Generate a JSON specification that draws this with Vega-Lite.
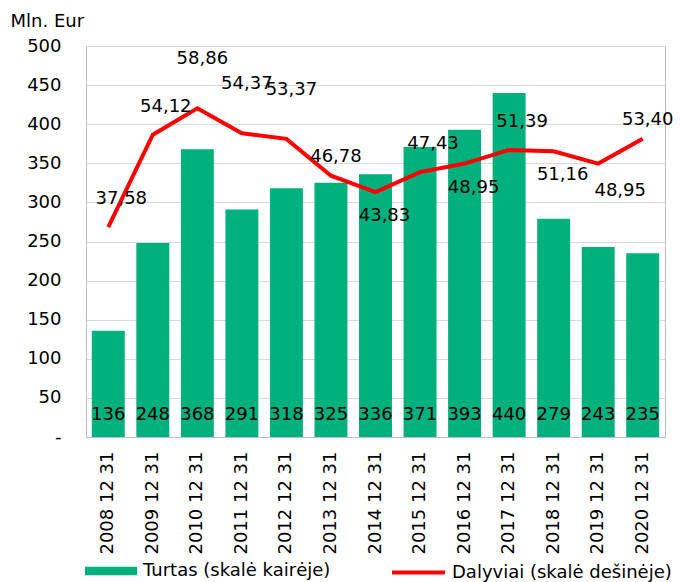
{
  "$schema": "https://vega.github.io/schema/vega-lite/v6.json",
  "width": 579,
  "height": 391,
  "autosize": {"type": "none"},
  "padding": {"left": 86, "top": 46, "right": 15, "bottom": 145},
  "background": "white",
  "config": {
    "font": "DejaVu Sans",
    "view": {"stroke": null},
    "locale": {"number": {"decimal": ",", "thousands": " ", "grouping": [3], "currency": ["", " €"]}},
    "axis": {"labelFont": "DejaVu Sans", "labelFontSize": 18, "labelColor": "#000000", "domainColor": "#bfbfbf", "gridColor": "#d9d9d9", "titleFont": "DejaVu Sans"},
    "legend": {"labelFont": "DejaVu Sans", "labelFontSize": 18, "labelColor": "#000000", "labelLimit": 400}
  },
  "data": {"values": [
    {"date": "2008 12 31", "turtas": 136, "dalyviai": 37.58},
    {"date": "2009 12 31", "turtas": 248, "dalyviai": 54.12},
    {"date": "2010 12 31", "turtas": 368, "dalyviai": 58.86},
    {"date": "2011 12 31", "turtas": 291, "dalyviai": 54.37},
    {"date": "2012 12 31", "turtas": 318, "dalyviai": 53.37},
    {"date": "2013 12 31", "turtas": 325, "dalyviai": 46.78},
    {"date": "2014 12 31", "turtas": 336, "dalyviai": 43.83},
    {"date": "2015 12 31", "turtas": 371, "dalyviai": 47.43},
    {"date": "2016 12 31", "turtas": 393, "dalyviai": 48.95},
    {"date": "2017 12 31", "turtas": 440, "dalyviai": 51.39},
    {"date": "2018 12 31", "turtas": 279, "dalyviai": 51.16},
    {"date": "2019 12 31", "turtas": 243, "dalyviai": 48.95},
    {"date": "2020 12 31", "turtas": 235, "dalyviai": 53.40}
  ]},
  "encoding": {
    "x": {"field": "date", "type": "nominal", "sort": null,
      "scale": {"paddingInner": 0.26, "paddingOuter": 0.13},
      "axis": {"title": null, "labelAngle": -90, "ticks": false, "labelPadding": 14, "domainColor": "#bfbfbf"}}
  },
  "layer": [
    {
      "layer": [
        {
          "mark": {"type": "bar"},
          "encoding": {
            "y": {"field": "turtas", "type": "quantitative", "scale": {"domain": [0, 500], "nice": false},
              "axis": {"values": [0, 50, 100, 150, 200, 250, 300, 350, 400, 450, 500], "ticks": false, "labelPadding": 25, "labelOverlap": false,
                "labelExpr": "datum.value === 0 ? '-' : datum.label",
                "title": "Mln. Eur", "titleAngle": 0, "titleAlign": "left", "titleBaseline": "middle", "titleX": -76, "titleY": -25,
                "titleFontSize": 18, "titleFontWeight": "normal", "titleColor": "#000000"}},
            "fill": {"datum": "Turtas (skalė kairėje)", "type": "nominal", "scale": {"range": ["#00B07D"]},
              "legend": {"title": null, "orient": "none", "legendX": -1, "legendY": 499, "symbolType": "M-1,-0.16H1V0.16H-1Z", "symbolSize": 2704, "symbolStrokeWidth": 0, "symbolOpacity": 1, "labelOffset": 6, "padding": 0}}
          }
        },
        {
          "mark": {"type": "text", "color": "#000000", "fontSize": 18, "baseline": "middle", "dy": -22},
          "encoding": {
            "y": {"datum": 0, "type": "quantitative",
              "axis": {"values": [0, 50, 100, 150, 200, 250, 300, 350, 400, 450, 500], "ticks": false, "labelPadding": 25, "labelOverlap": false,
                "labelExpr": "datum.value === 0 ? '-' : datum.label",
                "title": "Mln. Eur", "titleAngle": 0, "titleAlign": "left", "titleBaseline": "middle", "titleX": -76, "titleY": -25,
                "titleFontSize": 18, "titleFontWeight": "normal", "titleColor": "#000000"}},
            "text": {"field": "turtas", "type": "quantitative"}
          }
        }
      ]
    },
    {
      "layer": [
        {
          "mark": {"type": "line", "color": "#FF0000", "strokeWidth": 4},
          "encoding": {
            "y": {"field": "dalyviai", "type": "quantitative", "scale": {"domain": [0, 70], "nice": false},
              "axis": {"orient": "right", "labels": false, "ticks": false, "grid": false, "title": null, "domainColor": "#bfbfbf"}},
            "stroke": {"datum": "Dalyviai (skalė dešinėje)", "type": "nominal", "scale": {"range": ["#FF0000"]},
              "legend": {"title": null, "orient": "none", "legendX": 304, "legendY": 498, "symbolType": "stroke", "symbolSize": 2809, "symbolStrokeWidth": 4, "labelOffset": 5, "padding": 0}}
          }
        },
        {
          "transform": [{"filter": {"field": "date", "oneOf": ["2010 12 31", "2011 12 31", "2012 12 31"]}}],
          "mark": {"type": "text", "color": "#000000", "fontSize": 18, "baseline": "middle", "dx": 5, "dy": -49},
          "encoding": {"y": {"field": "dalyviai", "type": "quantitative"}, "text": {"field": "dalyviai", "type": "quantitative", "format": ".2f"}}
        },
        {
          "transform": [{"filter": {"field": "date", "oneOf": ["2008 12 31", "2009 12 31", "2015 12 31", "2017 12 31"]}}],
          "mark": {"type": "text", "color": "#000000", "fontSize": 18, "baseline": "middle", "dx": 13, "dy": -28},
          "encoding": {"y": {"field": "dalyviai", "type": "quantitative"}, "text": {"field": "dalyviai", "type": "quantitative", "format": ".2f"}}
        },
        {
          "transform": [{"filter": {"field": "date", "oneOf": ["2013 12 31", "2020 12 31"]}}],
          "mark": {"type": "text", "color": "#000000", "fontSize": 18, "baseline": "middle", "dx": 5, "dy": -19},
          "encoding": {"y": {"field": "dalyviai", "type": "quantitative"}, "text": {"field": "dalyviai", "type": "quantitative", "format": ".2f"}}
        },
        {
          "transform": [{"filter": {"field": "date", "oneOf": ["2014 12 31", "2016 12 31", "2018 12 31"]}}],
          "mark": {"type": "text", "color": "#000000", "fontSize": 18, "baseline": "middle", "dx": 9, "dy": 24},
          "encoding": {"y": {"field": "dalyviai", "type": "quantitative"}, "text": {"field": "dalyviai", "type": "quantitative", "format": ".2f"}}
        },
        {
          "transform": [{"filter": {"field": "date", "oneOf": ["2019 12 31"]}}],
          "mark": {"type": "text", "color": "#000000", "fontSize": 18, "baseline": "middle", "dx": 22, "dy": 27},
          "encoding": {"y": {"field": "dalyviai", "type": "quantitative"}, "text": {"field": "dalyviai", "type": "quantitative", "format": ".2f"}}
        }
      ]
    }
  ],
  "resolve": {"scale": {"y": "independent", "fill": "independent", "stroke": "independent"}}
}
